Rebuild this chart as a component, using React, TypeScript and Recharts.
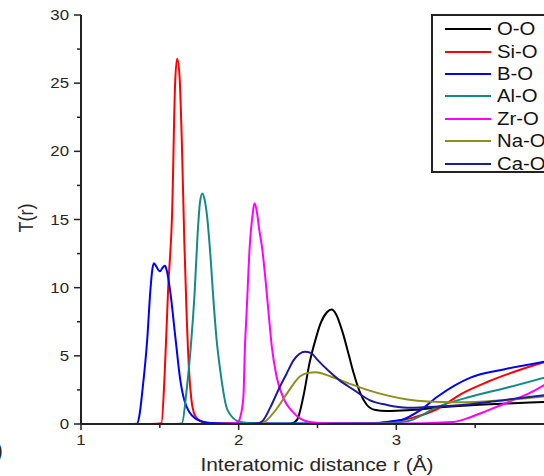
import React from 'react';
import { LineChart, Line, XAxis, YAxis, Legend } from 'recharts';

// partial pair correlation T(r) per atom pair: [r (Å), T(r)]
const OO: [number, number][] = [
  [2.28, 0], [2.33, 0.02], [2.37, 0.3], [2.41, 2.0], [2.45, 4.5], [2.49, 6.3], [2.52, 7.4], [2.56, 8.2],
  [2.59, 8.4], [2.62, 8.0], [2.66, 6.7], [2.70, 5.0], [2.73, 3.7], [2.77, 2.3], [2.81, 1.45], [2.86, 1.05],
  [2.94, 0.95], [3.07, 1.0], [3.3, 1.25], [3.5, 1.4], [3.7, 1.5], [4.0, 1.65],
];
const SiO: [number, number][] = [
  [1.45, 0], [1.51, 0.05], [1.53, 3.5], [1.553, 10], [1.578, 15.5], [1.597, 25], [1.61, 26.8], [1.625, 25.5],
  [1.64, 20.5], [1.655, 13.5], [1.67, 8], [1.685, 4], [1.70, 1.8], [1.72, 0.7], [1.745, 0.3], [1.80, 0.05],
  [2.6, 0], [2.9, 0.1], [3.1, 0.45], [3.26, 1.1], [3.41, 2.2], [3.58, 3.1], [3.79, 4.0], [4.0, 4.75],
];
const BO: [number, number][] = [
  [1.30, 0], [1.355, 0.02], [1.37, 0.6], [1.39, 2.5], [1.42, 6.2], [1.44, 9.8], [1.452, 11.3], [1.462, 11.8],
  [1.475, 11.6], [1.50, 11.2], [1.52, 11.5], [1.533, 11.6], [1.545, 11.2], [1.565, 9.8], [1.60, 6.2], [1.63, 3.2],
  [1.67, 1.25], [1.74, 0.3], [1.82, 0.08], [2.0, 0.03], [2.8, 0.05], [3.03, 0.3], [3.15, 1.0], [3.26, 2.0],
  [3.47, 3.4], [3.68, 4.0], [4.0, 4.7],
];
const AlO: [number, number][] = [
  [1.60, 0], [1.64, 0.03], [1.67, 2.5], [1.70, 6.2], [1.72, 9.5], [1.74, 14], [1.755, 16.3], [1.77, 16.9],
  [1.785, 16.4], [1.80, 15.2], [1.82, 12.5], [1.84, 9.1], [1.86, 6.2], [1.88, 4.2], [1.93, 1.0], [2.01, 0.15],
  [2.18, 0.02], [2.9, 0.05], [3.07, 0.2], [3.26, 1.25], [3.47, 2.0], [3.68, 2.6], [4.0, 3.6],
];
const ZrO: [number, number][] = [
  [1.90, 0], [1.97, 0.05], [2.00, 0.2], [2.01, 0.5], [2.03, 2.0], [2.04, 5.7], [2.05, 8.1], [2.07, 13.0],
  [2.09, 15.5], [2.10, 16.2], [2.115, 15.6], [2.13, 14.3], [2.15, 12.8], [2.17, 10.6], [2.19, 8.1], [2.21, 5.7],
  [2.24, 3.5], [2.28, 2.0], [2.35, 0.8], [2.45, 0.15], [2.6, 0.03], [3.0, 0.02], [3.36, 0.15], [3.47, 0.5],
  [3.58, 1.0], [3.74, 1.75], [3.85, 2.3], [4.0, 3.3],
];
const NaO: [number, number][] = [
  [2.10, 0], [2.15, 0.05], [2.18, 0.3], [2.24, 1.1], [2.31, 2.3], [2.39, 3.5], [2.44, 3.75], [2.49, 3.8],
  [2.58, 3.5], [2.65, 3.2], [2.73, 2.85], [2.83, 2.45], [2.94, 2.1], [3.07, 1.8], [3.2, 1.65], [3.36, 1.6],
  [3.5, 1.62], [3.68, 1.75], [4.0, 2.1],
];
const CaO: [number, number][] = [
  [2.05, 0], [2.12, 0.05], [2.15, 0.2], [2.20, 1.2], [2.26, 2.7], [2.30, 3.6], [2.35, 4.7], [2.42, 5.3],
  [2.46, 5.2], [2.50, 4.7], [2.57, 3.9], [2.64, 3.2], [2.73, 2.5], [2.83, 1.75], [2.94, 1.4], [3.07, 1.2],
  [3.2, 1.25], [3.47, 1.45], [3.68, 1.75], [4.0, 2.2],
];

const PAIRS = ['O-O', 'Si-O', 'B-O', 'Al-O', 'Zr-O', 'Na-O', 'Ca-O'];
const SERIES = [OO, SiO, BO, AlO, ZrO, NaO, CaO];
const COLORS = ['#000000', '#ff0000', '#0000ff', '#138a84', '#ff00ff', '#8e8e1c', '#1c1c96'];

const X_TICKS = [1, 1.5, 2, 2.5, 3, 3.5];
const Y_TICKS = [0, 2.5, 5, 7.5, 10, 12.5, 15, 17.5, 20, 22.5, 25, 27.5, 30];

const FONT = '"Liberation Sans", Arial, sans-serif';
const INK = '#262626';
const STRETCH = 1.16; // glyphs are set a little wide
const PLOT_LEFT = 81;
const PLOT_TOP = 15;
const PLOT_BOTTOM = 424;

const toPoints = (s: [number, number][]) => s.map(([r, t]) => ({ r, t }));

const YTick = (props: any) => {
  const { y, payload } = props;
  const major = payload.value % 5 === 0;
  return (
    <g>
      <line x1={PLOT_LEFT} x2={PLOT_LEFT - (major ? 7 : 4)} y1={y} y2={y} stroke="#222" strokeWidth={1.5} />
      {major && (
        <text
          transform={`translate(${PLOT_LEFT - 12},${y}) scale(${STRETCH},1)`}
          textAnchor="end"
          dominantBaseline="central"
          fontSize={14.5}
          fontFamily={FONT}
          fill={INK}
        >
          {payload.value}
        </text>
      )}
    </g>
  );
};

const XTick = (props: any) => {
  const { x, payload } = props;
  const major = Number.isInteger(payload.value);
  return (
    <g>
      <line x1={x} x2={x} y1={PLOT_BOTTOM} y2={PLOT_BOTTOM + (major ? 6 : 4)} stroke="#222" strokeWidth={1.5} />
      {major && (
        <text
          transform={`translate(${x},${PLOT_BOTTOM + 21}) scale(${STRETCH},1)`}
          textAnchor="middle"
          fontSize={14.5}
          fontFamily={FONT}
          fill={INK}
        >
          {payload.value}
        </text>
      )}
    </g>
  );
};

const TopTick = (props: any) => {
  const { x, payload } = props;
  const major = Number.isInteger(payload.value);
  return <line x1={x} x2={x} y1={PLOT_TOP} y2={PLOT_TOP + (major ? 6 : 4)} stroke="#222" strokeWidth={1.5} />;
};

const XLabel = () => (
  <text transform={`translate(317,471) scale(${STRETCH},1)`} textAnchor="middle" fontSize={18} fontFamily={FONT} fill={INK}>
    Interatomic distance r (Å)
  </text>
);

const YLabel = () => (
  <text
    transform={`translate(26,218) rotate(-90) scale(1,${STRETCH})`}
    textAnchor="middle"
    dominantBaseline="central"
    fontSize={18}
    fontFamily={FONT}
    fill={INK}
  >
    T(r)
  </text>
);

// fixed pair order, same as the series are drawn
const PairLegend = () => (
  <div
    style={{
      width: 150,
      height: 159,
      boxSizing: 'border-box',
      border: '2px solid #222',
      borderRight: 'none',
      paddingTop: 2,
      background: '#fff',
      fontFamily: FONT,
    }}
  >
    {PAIRS.map((pair, i) => (
      <div key={pair} style={{ display: 'flex', alignItems: 'center', height: 22.4 }}>
        <span style={{ marginLeft: 12, width: 46, height: 2, background: COLORS[i] }} />
        <span
          style={{
            marginLeft: 6,
            fontSize: 17.5,
            color: '#111',
            lineHeight: '22px',
            display: 'inline-block',
            transform: `scaleX(${STRETCH})`,
            transformOrigin: 'left center',
          }}
        >
          {pair}
        </span>
      </div>
    ))}
  </div>
);

export default function App() {
  return (
    <div style={{ position: 'absolute', left: 0, top: 0, width: 544, height: 476, overflow: 'hidden', background: '#fff' }}>
      <LineChart width={600} height={476} margin={{ top: PLOT_TOP, right: 46, bottom: 0, left: 0 }}>
        <XAxis
          dataKey="r"
          type="number"
          domain={[1, 4]}
          allowDataOverflow
          ticks={X_TICKS}
          interval={0}
          height={52}
          tickLine={false}
          tick={<XTick />}
          axisLine={{ stroke: '#222', strokeWidth: 2 }}
          label={<XLabel />}
        />
        <XAxis
          xAxisId="top"
          orientation="top"
          dataKey="r"
          type="number"
          domain={[1, 4]}
          allowDataOverflow
          ticks={X_TICKS}
          interval={0}
          height={0}
          tickLine={false}
          tick={<TopTick />}
          axisLine={{ stroke: '#222', strokeWidth: 2 }}
        />
        <YAxis
          type="number"
          domain={[0, 30]}
          ticks={Y_TICKS}
          interval={0}
          width={PLOT_LEFT}
          tickLine={false}
          tick={<YTick />}
          axisLine={{ stroke: '#222', strokeWidth: 2 }}
          label={<YLabel />}
        />
        <Legend
          layout="vertical"
          align="center"
          verticalAlign="middle"
          wrapperStyle={{ left: 431, top: 14, width: 150 }}
          content={<PairLegend />}
        />
        {SERIES.map((s, i) => (
          <Line
            key={PAIRS[i]}
            data={toPoints(s)}
            dataKey="t"
            name={PAIRS[i]}
            type="monotone"
            stroke={COLORS[i]}
            strokeWidth={2}
            dot={false}
            activeDot={false}
            isAnimationActive={false}
          />
        ))}
      </LineChart>
      {/* panel letter, mostly outside the frame */}
      <div style={{ position: 'absolute', left: -57, top: 436, width: 60, textAlign: 'right', fontSize: 24, fontFamily: FONT, color: INK }}>
        (a)
      </div>
    </div>
  );
}
